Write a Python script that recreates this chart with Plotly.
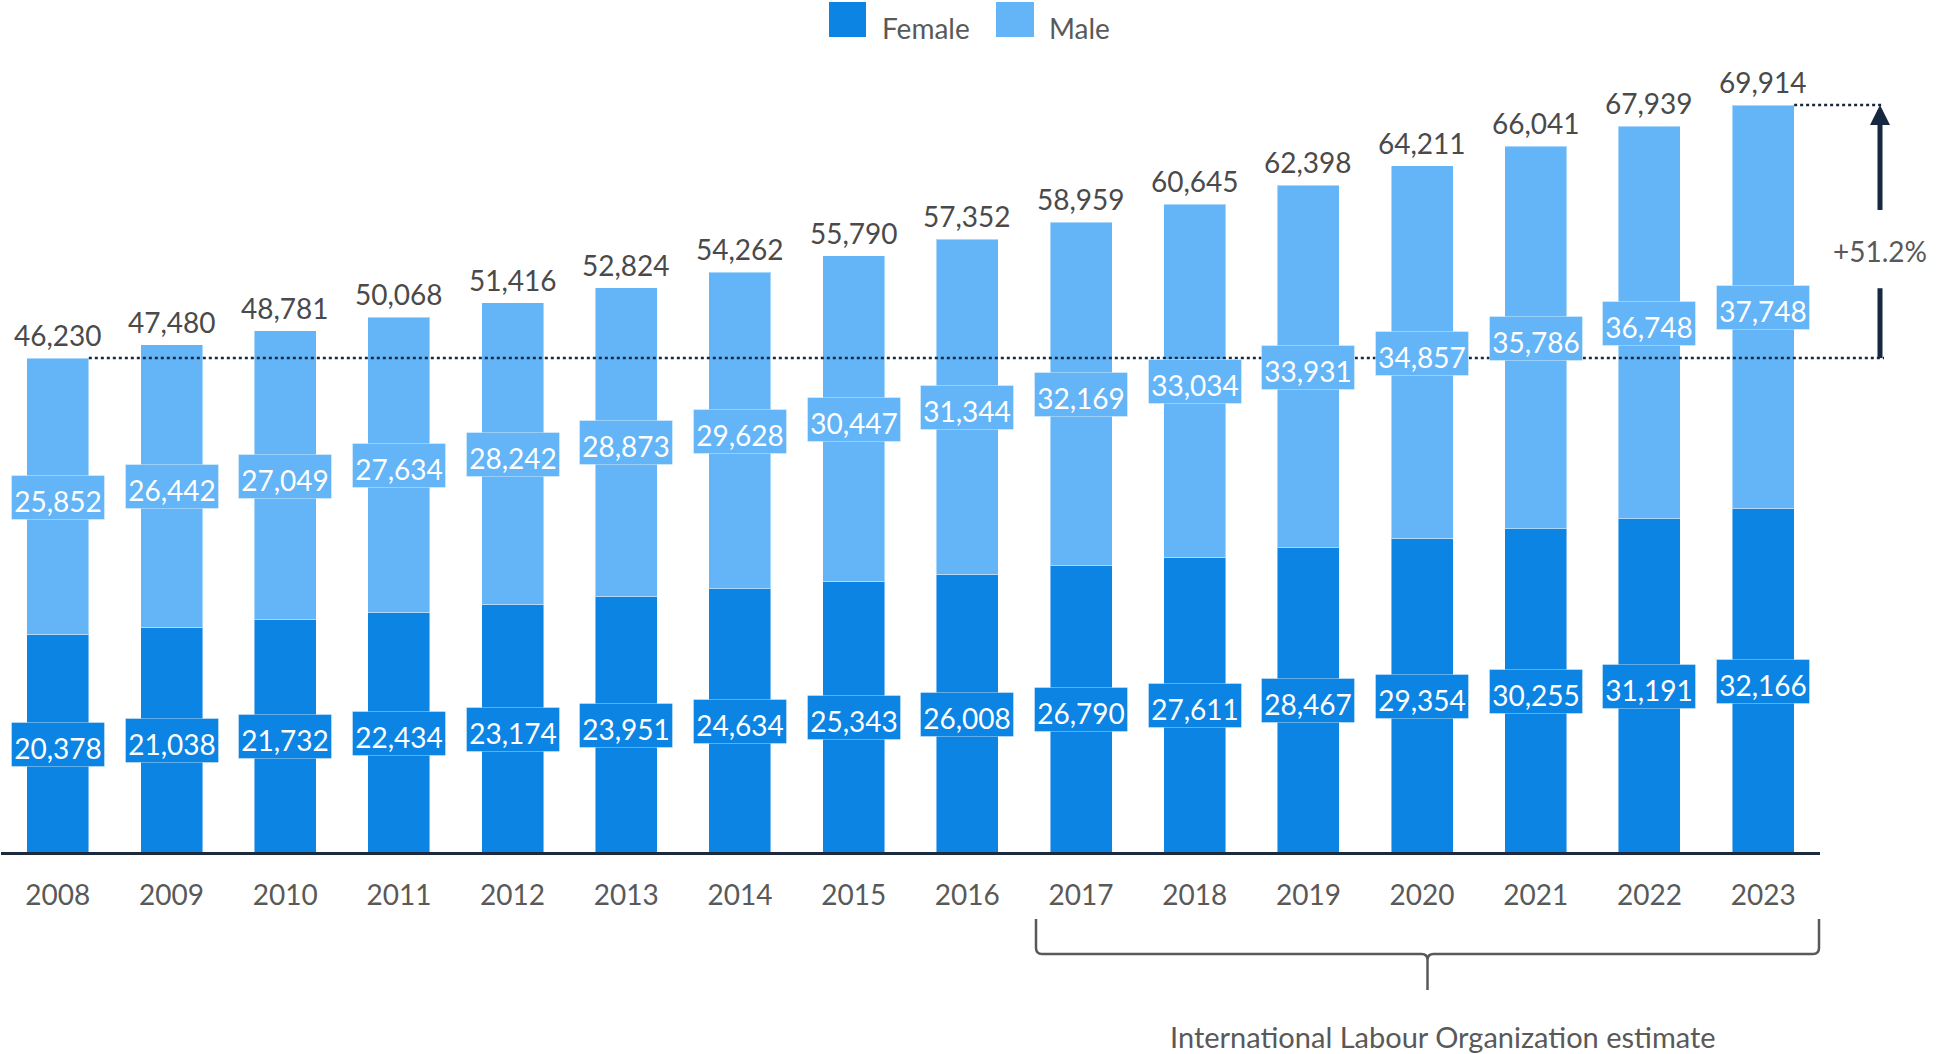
import plotly.graph_objects as go

# ---------------- data ----------------
years = ["2008", "2009", "2010", "2011", "2012", "2013", "2014", "2015",
         "2016", "2017", "2018", "2019", "2020", "2021", "2022", "2023"]
female = [20378, 21038, 21732, 22434, 23174, 23951, 24634, 25343,
          26008, 26790, 27611, 28467, 29354, 30255, 31191, 32166]
male = [25852, 26442, 27049, 27634, 28242, 28873, 29628, 30447,
        31344, 32169, 33034, 33931, 34857, 35786, 36748, 37748]
totals = [46230, 47480, 48781, 50068, 51416, 52824, 54262, 55790,
          57352, 58959, 60645, 62398, 64211, 66041, 67939, 69914]
series_names = ["Female", "Male"]
estimate_label = "International Labour Organization estimate"

# ---------------- styling ----------------
FEMALE_C = "#0B84E4"
MALE_C = "#63B5F8"
GREY = "#595959"
NAVY = "#15283F"
FONT = "Lato"
FS = 28

W_FIG, H_FIG = 1947, 1054
L, R, T, B = 1, 127, 60, 202
PW = W_FIG - L - R
PH = H_FIG - T - B
PX_PER_UNIT = 0.010684
YMAX = PH / PX_PER_UNIT
BAR_FRAC = 0.545
N = len(years)


def px_x(x):
    return (x - L) / PW


def px_y(y):
    return (T + PH - y) / PH


def cat_paper(i):
    return (i + 0.5) / N


fig = go.Figure()
fig.add_bar(x=years, y=female, name=series_names[0], marker_color=FEMALE_C,
            marker_line=dict(color="rgba(255,255,255,0.45)", width=1))
fig.add_bar(x=years, y=male, name=series_names[1], marker_color=MALE_C,
            marker_line=dict(color="rgba(255,255,255,0.45)", width=1))

annotations = []
shapes = []

# total labels above bars
for i, t in enumerate(totals):
    annotations.append(dict(x=i, y=t, xref="x", yref="y", text=f"{t:,}",
                            showarrow=False, xanchor="center",
                            yanchor="bottom", yshift=4,
                            font=dict(family=FONT, size=FS, color="#4A4A4A")))

# inner boxed labels
box = dict(showarrow=False, xanchor="center", yanchor="middle",
           font=dict(family=FONT, size=FS, color="white"),
           bordercolor="rgba(255,255,255,0.35)", borderwidth=1, borderpad=1,
           width=90, height=41, valign="bottom", yshift=-1)
for i, (f, m) in enumerate(zip(female, male)):
    annotations.append(dict(x=i, y=f / 2, xref="x", yref="y", text=f"{f:,}",
                            bgcolor=FEMALE_C, **box))
    annotations.append(dict(x=i, y=f + m / 2, xref="x", yref="y", text=f"{m:,}",
                            bgcolor=MALE_C, **box))

# dotted reference lines and growth arrow
first, last = totals[0], totals[-1]
x_end = px_x(1884)
x_arrow = px_x(1880)
shapes.append(dict(type="line", xref="paper", yref="y",
                   x0=cat_paper(0) + BAR_FRAC / 2 / N, x1=x_end, y0=first, y1=first,
                   line=dict(color=NAVY, width=2.5, dash="dot"), layer="above"))
shapes.append(dict(type="line", xref="paper", yref="y",
                   x0=cat_paper(N - 1) + BAR_FRAC / 2 / N, x1=x_end, y0=last, y1=last,
                   line=dict(color=NAVY, width=2.5, dash="dot"), layer="above"))
span = last - first
shapes.append(dict(type="line", xref="paper", yref="y",
                   x0=x_arrow, x1=x_arrow, y0=first, y1=first + 0.276 * span,
                   line=dict(color=NAVY, width=5), layer="above"))
annotations.append(dict(x=x_arrow, y=last, xref="paper", yref="y",
                        ax=0, ay=first + 0.579 * span, axref="pixel", ayref="y",
                        text="", showarrow=True, arrowhead=2, arrowsize=0.8,
                        arrowwidth=5, arrowcolor=NAVY, standoff=0))
growth = (last - first) / first * 100
annotations.append(dict(x=x_arrow, y=first + 0.425 * span, xref="paper", yref="y",
                        xanchor="center", yanchor="middle",
                        text=f"+{growth:.1f}%", showarrow=False,
                        font=dict(family=FONT, size=FS, color=GREY)))

# brace under estimate years
xl, xr = px_x(1036), px_x(1819)
xc = (xl + xr) / 2
yt, yh, yb = px_y(919), px_y(954), px_y(990)
dx, dy = 6 / PW, 6 / PH
path = (f"M {xl},{yt} L {xl},{yh + dy} Q {xl},{yh} {xl + dx},{yh} "
        f"L {xc - dx},{yh} Q {xc},{yh} {xc},{yh - dy} L {xc},{yb} "
        f"M {xc},{yh - dy} Q {xc},{yh} {xc + dx},{yh} "
        f"L {xr - dx},{yh} Q {xr},{yh} {xr},{yh + dy} L {xr},{yt}")
shapes.append(dict(type="path", xref="paper", yref="paper", path=path,
                   line=dict(color=GREY, width=2.5)))
annotations.append(dict(x=px_x(1443), y=px_y(1036), xref="paper", yref="paper",
                        xanchor="center", yanchor="middle",
                        text=estimate_label, showarrow=False,
                        font=dict(family=FONT, size=29, color=GREY)))

# manual legend
for (x0, x1, tx), name, col in zip([(829, 866, 880), (996, 1034, 1047)],
                                   series_names, [FEMALE_C, MALE_C]):
    shapes.append(dict(type="rect", xref="paper", yref="paper",
                       x0=px_x(x0), x1=px_x(x1), y0=px_y(37), y1=px_y(2),
                       fillcolor=col, line=dict(width=0)))
    annotations.append(dict(x=px_x(tx), y=px_y(28), xref="paper", yref="paper",
                            xanchor="left", yanchor="middle", text=name,
                            showarrow=False,
                            font=dict(family=FONT, size=FS, color=GREY)))

fig.update_layout(
    width=W_FIG, height=H_FIG,
    margin=dict(l=L, r=R, t=T, b=B, pad=0),
    barmode="stack", bargap=1 - BAR_FRAC,
    showlegend=False,
    plot_bgcolor="white", paper_bgcolor="white",
    font=dict(family=FONT, size=FS, color=GREY),
    annotations=annotations, shapes=shapes,
    xaxis=dict(type="category", range=[-0.5, N - 0.5], showgrid=False,
               showline=True, linecolor="#1B2A3F", linewidth=3,
               ticks="", ticklabelstandoff=16,
               tickfont=dict(family=FONT, size=FS, color=GREY)),
    yaxis=dict(range=[0, YMAX], visible=False, showgrid=False, zeroline=False),
)

fig.write_html("out.html")
